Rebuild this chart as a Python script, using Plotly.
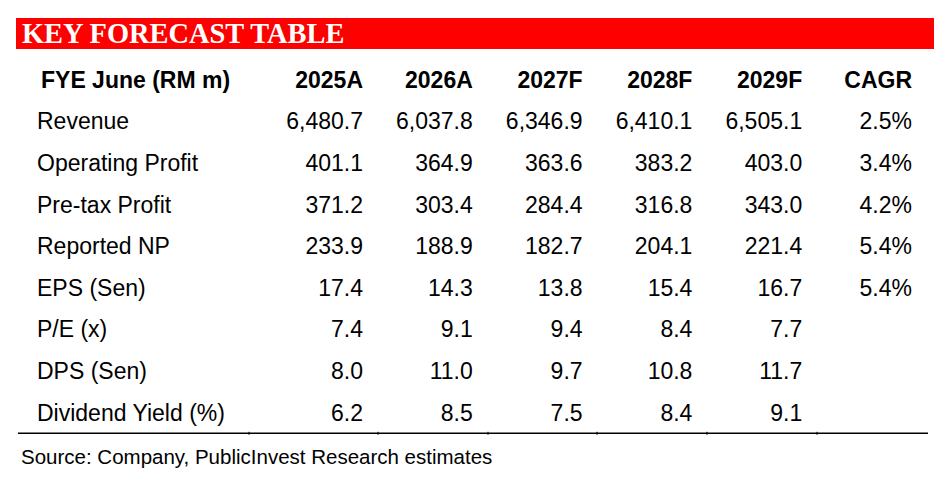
import plotly.graph_objects as go

# table content
title = "KEY FORECAST TABLE"
header_label = "FYE June (RM m)"
columns = ["2025A", "2026A", "2027F", "2028F", "2029F", "CAGR"]
row_labels = ["Revenue", "Operating Profit", "Pre-tax Profit", "Reported NP",
              "EPS (Sen)", "P/E (x)", "DPS (Sen)", "Dividend Yield (%)"]

revenue = [6480.7, 6037.8, 6346.9, 6410.1, 6505.1]
operating_profit = [401.1, 364.9, 363.6, 383.2, 403.0]
pretax_profit = [371.2, 303.4, 284.4, 316.8, 343.0]
reported_np = [233.9, 188.9, 182.7, 204.1, 221.4]
eps = [17.4, 14.3, 13.8, 15.4, 16.7]
pe = [7.4, 9.1, 9.4, 8.4, 7.7]
dps = [8.0, 11.0, 9.7, 10.8, 11.7]
div_yield = [6.2, 8.5, 7.5, 8.4, 9.1]
cagr = [2.5, 3.4, 4.2, 5.4, 5.4, None, None, None]
source = "Source: Company, PublicInvest Research estimates"

rows = [revenue, operating_profit, pretax_profit, reported_np, eps, pe, dps, div_yield]

# layout constants (page pixels; the page body adds an 8px margin)
OFF = 8
W, H = 946 - OFF, 490 - OFF
col_w = 109.8          # spacing between number columns
first_right = 363      # right edge of first number column
row_h = 41.6
header_y = 82          # centre of header row
FONT = "Liberation Sans, Arial, sans-serif"
FS = 23

x0 = 1 - (first_right - OFF) / col_w
x1 = x0 + W / col_w
y_top = -(header_y - OFF) / row_h
y_bot = y_top + H / row_h


def px_x(p):
    return x0 + (p - OFF) / col_w


def px_y(p):
    return y_top + (p - OFF) / row_h


def pap_x(p):
    return (p - OFF) / W


def pap_y(p):
    return 1 - (p - OFF) / H


row_idx = list(range(1, len(row_labels) + 1))

fig = go.Figure()

# row labels
fig.add_trace(go.Scatter(
    x=[px_x(37)] * len(row_labels), y=row_idx, text=row_labels,
    mode="text", textposition="middle right",
    textfont=dict(family=FONT, size=FS, color="black"),
    hoverinfo="skip", showlegend=False))

# header
fig.add_trace(go.Scatter(
    x=[px_x(41)], y=[0], text=[header_label],
    mode="text", textposition="middle right",
    textfont=dict(family=FONT, size=FS, color="black", weight="bold"),
    hoverinfo="skip", showlegend=False))
fig.add_trace(go.Scatter(
    x=list(range(1, len(columns) + 1)), y=[0] * len(columns), text=columns,
    mode="text", textposition="middle left",
    textfont=dict(family=FONT, size=FS, color="black", weight="bold"),
    hoverinfo="skip", showlegend=False))

# yearly values
for j in range(5):
    vals = [r[j] for r in rows]
    fig.add_trace(go.Scatter(
        x=[j + 1] * len(vals), y=row_idx,
        text=[f"{v:,.1f}" for v in vals],
        mode="text", textposition="middle left",
        textfont=dict(family=FONT, size=FS, color="black"),
        hoverinfo="skip", showlegend=False))

# CAGR column
cy = [i for i, v in zip(row_idx, cagr) if v is not None]
fig.add_trace(go.Scatter(
    x=[6] * len(cy), y=cy,
    text=[f"{v:.1f}%" for v in cagr if v is not None],
    mode="text", textposition="middle left",
    textfont=dict(family=FONT, size=FS, color="black"),
    hoverinfo="skip", showlegend=False))

# red title bar
fig.add_shape(type="rect", xref="paper", yref="paper",
              x0=pap_x(16), x1=pap_x(934), y0=pap_y(49), y1=pap_y(18),
              fillcolor="#ff0000", line=dict(width=0), layer="below")
fig.add_annotation(text=f"<b>{title}</b>", xref="paper", yref="paper",
                   x=pap_x(20), y=pap_y(33), xanchor="left", yanchor="middle",
                   showarrow=False,
                   font=dict(family="Liberation Serif, Times New Roman, serif",
                             size=28.4, color="white"))

# bottom rule with small column marks
line_y = px_y(433.3)
fig.add_shape(type="line", x0=px_x(18), x1=px_x(928), y0=line_y, y1=line_y,
              line=dict(color="black", width=1.4))
for b in [249, 378, 488, 597, 707, 817]:
    fig.add_shape(type="line", x0=px_x(b), x1=px_x(b),
                  y0=line_y - 1.5 / row_h, y1=line_y + 1.5 / row_h,
                  line=dict(color="black", width=1))

fig.add_annotation(text=source, xref="paper", yref="paper",
                   x=pap_x(19), y=pap_y(456.5), xanchor="left", yanchor="middle",
                   showarrow=False, font=dict(family=FONT, size=20.5, color="black"))

fig.update_xaxes(range=[x0, x1], visible=False, fixedrange=True)
fig.update_yaxes(range=[y_bot, y_top], visible=False, fixedrange=True)
fig.update_layout(width=W, height=H, autosize=False,
                  margin=dict(l=0, r=0, t=0, b=0),
                  plot_bgcolor="white", paper_bgcolor="white")

fig.write_html("out.html")
